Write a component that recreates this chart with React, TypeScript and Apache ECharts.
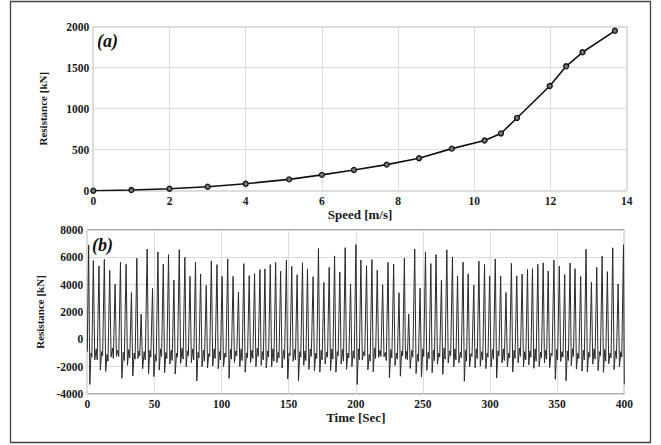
import React, { useEffect, useRef } from "react";
import * as echarts from "echarts";

// ---------- Panel (a): resistance vs speed ----------
const speedA = [0, 1, 2, 3, 4, 5.14, 6, 6.84, 7.7, 8.55, 9.41, 10.27, 10.7, 11.12, 11.98, 12.41, 12.84, 13.69];
const resistanceA = [0, 8, 24, 49, 85, 138, 193, 253, 318, 396, 513, 612, 698, 887, 1277, 1517, 1688, 1950];

const xTicksA = { min: 0, max: 14, step: 2 };
const yTicksA = { min: 0, max: 2000, step: 500 };
const xTicksB = { min: 0, max: 400, step: 50 };
const yTicksB = { min: -4000, max: 8000, step: 2000 };

// ---------- Panel (b): resistance time history ----------
const peakTime = [
  1.0, 4.5, 8.7, 12.7, 16.7, 20.7, 24.7, 28.9, 32.9, 36.9,
  40.1, 44.6, 48.6, 52.6, 56.6, 60.5, 64.5, 68.5, 72.7, 76.5,
  80.6, 84.4, 88.6, 92.4, 96.6, 100.4, 104.6, 108.6, 112.6, 116.6,
  120.6, 124.6, 128.6, 132.3, 136.3, 140.3, 144.0, 148.3, 152.3, 156.3,
  160.3, 164.0, 168.2, 172.2, 176.2, 180.2, 184.2, 188.1, 192.1, 196.1,
  200.1,
  203.8, 208.0, 212.0, 216.0, 220.0, 224.0, 228.2, 232.2, 236.2, 239.4,
  243.9, 247.9, 251.9, 255.9, 259.8, 263.8, 267.8, 272.0, 275.8, 279.9,
  283.7, 287.9, 291.7, 295.9, 299.7, 303.9, 307.9, 311.9, 315.9, 319.9,
  323.9, 327.9, 331.6, 335.6, 339.6, 343.3, 347.6, 351.6, 355.6, 359.6,
  363.3, 367.5, 371.5, 375.5, 379.5, 383.5, 387.4, 391.4, 395.4, 399.4,
];
const peakValue = [
  6900, 5760, 5370, 5860, 5050, 4030, 5640, 5490, 3420, 5930,
  1850, 6610, 3730, 6390, 5510, 6200, 4340, 6560, 6000, 4610,
  5660, 4780, 3950, 5740, 5470, 4610, 5890, 4610, 3460, 5540,
  4660, 4800, 5100, 5150, 5470, 5620, 4980, 5800, 5340, 4730,
  5600, 5150, 4590, 6640, 4170, 5270, 6100, 4930, 6710, 4050,
  6930,
  5800, 5390, 5840, 5060, 4000, 5630, 5510, 3400, 5950, 1850,
  6600, 3740, 6380, 5540, 6200, 4330, 6550, 6030, 4630, 5650,
  4800, 3970, 5730, 5480, 4630, 5880, 4630, 3430, 5560, 4650,
  4780, 5120, 5170, 5490, 5600, 5000, 5790, 5360, 4740, 5580,
  5170, 4600, 6600, 4170, 5270, 6080, 4950, 6700, 4050, 6920,
];
const troughValue = [
  -3300, -1500, -2250, -2350, -1300, -1250, -2850, -1900, -2680, -1400,
  -2150, -2520, -2730, -2250, -2450, -1800, -2540, -1760, -2000, -1700,
  -3050, -2000, -2100, -1950, -2150, -2000, -2850, -1700, -2000, -2400,
  -1700, -2000, -1900, -2100, -2000, -1700, -2100, -2900, -1600, -3050,
  -1900, -2200, -2300, -2400, -1800, -2300, -2400, -1800, -2200, -2000,
  -3300,
  -1520, -2230, -2380, -1320, -1270, -2830, -1920, -2700, -1420, -2130,
  -2500, -2750, -2270, -2430, -1820, -2560, -1740, -2020, -1720, -3060,
  -2010, -2080, -1970, -2140, -2020, -2830, -1720, -2010, -2380, -1720,
  -2010, -1880, -2120, -1980, -1720, -2080, -2920, -1620, -3030, -1920,
  -2180, -2320, -2380, -1820, -2280, -2420, -1780, -2220, -2010,
];
const shoulderValue = [
  -1000, -700, -900, -1100, -650, -800, -950, -750, -1000, -850,
  -900, -800, -1100, -700, -950, -800, -1000, -650, -850, -700,
  -950, -800, -1050, -700, -900, -1000, -750, -850, -700, -1000,
  -800, -650, -900, -850, -700, -950, -800, -1000, -750, -900,
  -850, -700, -1000, -800, -950, -700, -900, -750, -1000, -850,
  -700, -900, -1100, -650, -800, -950, -750, -1000, -850, -900,
  -800, -1100, -700, -950, -800, -1000, -650, -850, -700, -950,
  -800, -1050, -700, -900, -1000, -750, -850, -700, -1000, -800,
  -650, -900, -850, -700, -950, -800, -1000, -750, -900, -850,
  -700, -1000, -800, -950, -700, -900, -750, -1000, -850, -900,
];
const dipValue = [
  -1300, -1500, -1200, -1600, -1400, -1250, -1550, -1350, -1450, -1200,
  -1500, -1300, -1600, -1250, -1400, -1550, -1300, -1450, -1200, -1500,
  -1350, -1600, -1250, -1400, -1500, -1300, -1450, -1200, -1550, -1350,
  -1400, -1250, -1500, -1300, -1600, -1350, -1450, -1200, -1500, -1300,
  -1550, -1250, -1400, -1500, -1300, -1450, -1200, -1600, -1350, -1400,
  -1500, -1200, -1600, -1400, -1250, -1550, -1350, -1450, -1200, -1500,
  -1300, -1600, -1250, -1400, -1550, -1300, -1450, -1200, -1500, -1350,
  -1600, -1250, -1400, -1500, -1300, -1450, -1200, -1550, -1350, -1400,
  -1250, -1500, -1300, -1600, -1350, -1450, -1200, -1500, -1300, -1550,
  -1250, -1400, -1500, -1300, -1450, -1200, -1600, -1350, -1400, -1300,
];
const startValue = -900;
const endValue = -3300;

function buildSeriesB(): [number, number][] {
  const pts: [number, number][] = [[0, startValue]];
  for (let i = 0; i < peakTime.length; i++) {
    const t = peakTime[i];
    pts.push([t, peakValue[i]]);
    if (i + 1 < peakTime.length) {
      const d = peakTime[i + 1] - t;
      pts.push([t + 0.25 * d, troughValue[i]]);
      pts.push([t + 0.5 * d, shoulderValue[i]]);
      pts.push([t + 0.68 * d, dipValue[i]]);
    }
  }
  pts.push([xTicksB.max, endValue]);
  return pts;
}

const FONT = "Liberation Serif";
const tickLabel = {
  color: "#1a1a1a", fontFamily: FONT, fontWeight: "bold" as const, fontSize: 11.5, margin: 4,
  formatter: (v: number) => String(v),
};
const axisName = { color: "#1a1a1a", fontFamily: FONT, fontWeight: "bold" as const };
const splitLine = { show: true, lineStyle: { color: "#dcdcdc", width: 1 } };

export default function App() {
  const ref = useRef<HTMLDivElement>(null);
  useEffect(() => {
    if (!ref.current) return;
    const chart = echarts.init(ref.current, undefined, { renderer: "svg" });
    const dataA = speedA.map((s, i) => [s, resistanceA[i]]);
    chart.setOption({
      animation: false,
      backgroundColor: "#ffffff",
      grid: [
        { left: 93.3, top: 26.7, width: 533.4, height: 164, show: true, borderColor: "#555", borderWidth: 1, backgroundColor: "transparent" },
        { left: 87.3, top: 230, width: 537, height: 164, show: true, borderColor: "#555", borderWidth: 1, backgroundColor: "transparent" },
      ],
      xAxis: [
        {
          type: "value", gridIndex: 0, min: xTicksA.min, max: xTicksA.max, interval: xTicksA.step,
          name: "Speed [m/s]", nameLocation: "middle", nameGap: 15,
          nameTextStyle: { ...axisName, fontSize: 13 },
          axisLine: { show: false }, axisTick: { show: false },
          axisLabel: tickLabel, splitLine,
        },
        {
          type: "value", gridIndex: 1, min: xTicksB.min, max: xTicksB.max, interval: xTicksB.step,
          name: "Time [Sec]", nameLocation: "middle", nameGap: 16,
          nameTextStyle: { ...axisName, fontSize: 13 },
          axisLine: { show: false }, axisTick: { show: false },
          axisLabel: tickLabel, splitLine,
        },
      ],
      yAxis: [
        {
          type: "value", gridIndex: 0, min: yTicksA.min, max: yTicksA.max, interval: yTicksA.step,
          name: "Resistance [kN]", nameLocation: "middle", nameGap: 45,
          nameTextStyle: { ...axisName, fontSize: 11 },
          axisLine: { show: false }, axisTick: { show: false },
          axisLabel: tickLabel, splitLine,
        },
        {
          type: "value", gridIndex: 1, min: yTicksB.min, max: yTicksB.max, interval: yTicksB.step,
          name: "Resistance [kN]", nameLocation: "middle", nameGap: 38,
          nameTextStyle: { ...axisName, fontSize: 11 },
          axisLine: { show: false }, axisTick: { show: false },
          axisLabel: tickLabel, splitLine,
        },
      ],
      series: [
        {
          type: "line", xAxisIndex: 0, yAxisIndex: 0, data: dataA,
          symbol: "circle", symbolSize: 5, showSymbol: true,
          lineStyle: { color: "#111", width: 1.6 },
          itemStyle: { color: "#777", borderColor: "#111", borderWidth: 1.3 },
        },
        {
          type: "line", xAxisIndex: 1, yAxisIndex: 1, data: buildSeriesB(),
          showSymbol: false, symbol: "none", clip: true,
          lineStyle: { color: "#2a2a2a", width: 1 },
        },
      ],
      graphic: [
        { type: "rect", shape: { x: 10.5, y: 1.5, width: 640, height: 441 }, style: { fill: "none", stroke: "#444", lineWidth: 1.3 }, silent: true },
        { type: "text", left: 97, top: 32, style: { text: "(a)", font: "italic bold 18px 'Liberation Serif'", fill: "#111" } },
        { type: "text", left: 92, top: 236, style: { text: "(b)", font: "italic bold 18px 'Liberation Serif'", fill: "#111" } },
      ],
    });
    return () => chart.dispose();
  }, []);
  return <div ref={ref} style={{ position: "absolute", left: 0, top: 0, width: 661, height: 445 }} />;
}
